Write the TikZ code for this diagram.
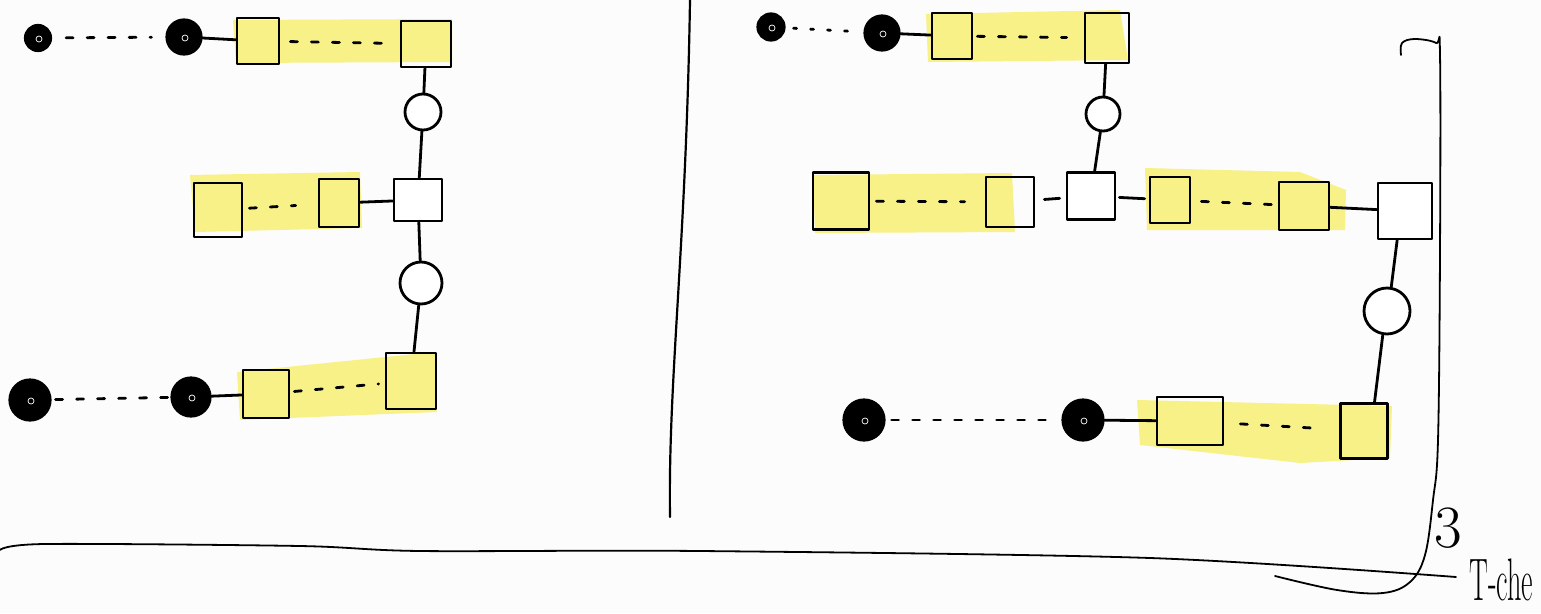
\documentclass[tikz,border=0pt]{standalone}
\usetikzlibrary{calc}
\definecolor{hl}{RGB}{248,241,135}
\definecolor{bgc}{RGB}{252,252,252}
\begin{document}
\begin{tikzpicture}[x=1pt,y=-1pt,
  pen/.style={line width=2.8pt, line cap=round, line join=round, draw=black},
  sqbox/.style={pen, rectangle, inner sep=0pt},
  wbox/.style={sqbox, fill=white},
  ring/.style={pen, circle, inner sep=0pt, fill=white},
  blob/.style={circle, fill=black, draw=black, line width=1.2pt, inner sep=0pt,
    path picture={\draw[white, line width=0.7pt] ([shift={(1,1)}]path picture bounding box.center) circle (3);}},
  dashline/.style={line width=2.8pt, line cap=round, dash pattern=on 7pt off 14pt},
  thinpen/.style={line width=1.8pt, line cap=round, line join=round}
]
\fill[bgc] (0,0) rectangle (1541,613);
\useasboundingbox (0,0) rectangle (1541,613);

% ---------- highlight bands ----------
\fill[hl] (233,20) -- (452,19) -- (452,62) -- (236,63) -- cycle;
\fill[hl] (190,175) -- (360,172) -- (362,228) -- (195,232) -- cycle;
\fill[hl] (237,372) -- (435,352) -- (437,412) -- (240,420) -- cycle;
\fill[hl] (926,14) -- (1120,10) -- (1128,60) -- (928,62) -- cycle;
\fill[hl] (813,175) -- (1012,173) -- (1015,232) -- (815,233) -- cycle;
\fill[hl] (1145,168) -- (1300,172) -- (1346,190) -- (1345,230) -- (1147,230) -- cycle;
\fill[hl] (1137,400) -- (1392,406) -- (1390,458) -- (1300,463) -- (1140,445) -- cycle;

% ---------- left panel ----------
\node[blob, minimum size=27] (a1) at (38,38) {};
\node[blob, minimum size=36] (a2) at (184,37) {};
\node[sqbox, minimum width=42, minimum height=46] (b1) at (258,41) {};
\node[sqbox, minimum width=50, minimum height=46] (b2) at (426,44) {};
\node[ring, minimum size=36] (c1) at (423,112) {};
\node[wbox, minimum width=48, minimum height=42] (w1) at (418,200) {};
\node[sqbox, minimum width=48, minimum height=54] (b3) at (218,210) {};
\node[sqbox, minimum width=40, minimum height=48] (b4) at (339,203) {};
\node[ring, minimum size=42] (c2) at (421,283) {};
\node[sqbox, minimum width=46, minimum height=48] (b5) at (266,394) {};
\node[sqbox, minimum width=50, minimum height=56] (b6) at (411,381) {};
\node[blob, minimum size=42] (a3) at (30,400) {};
\node[blob, minimum size=40] (a4) at (191,397) {};

\draw[dashline, shorten <=14pt, shorten >=14pt] (a1) -- (a2);
\draw[pen] (a2) -- (b1);
\draw[dashline, shorten <=10pt, shorten >=8pt] (b1) -- (b2);
\draw[pen] (b2) -- (c1);
\draw[pen] (c1) -- (w1);
\draw[dashline, shorten <=6pt, shorten >=22pt] (b3) -- (b4);
\draw[pen] (b4) -- (w1);
\draw[pen] (w1) -- (c2);
\draw[pen] (c2) -- (b6);
\draw[dashline, shorten <=4pt, shorten >=2pt] (a3) -- (a4);
\draw[pen] (a4) -- (b5);
\draw[dashline, shorten <=4pt, shorten >=6pt] (b5) -- (b6);

% ---------- divider ----------
\draw[line width=2.2pt, line cap=round] (690,0) .. controls (686,250) and (668,380) .. (670,517);

% ---------- right panel ----------
\node[blob, minimum size=28] (d1) at (771,27) {};
\node[blob, minimum size=36] (d2) at (882,33) {};
\node[sqbox, minimum width=40, minimum height=46] (e1) at (952,36) {};
\node[sqbox, minimum width=44, minimum height=50] (e2) at (1107,38) {};
\node[ring, minimum size=34] (f1) at (1103,114) {};
\node[wbox, minimum width=48, minimum height=47] (w2) at (1091,196) {};
\node[sqbox, minimum width=56, minimum height=57] (e3) at (841,201) {};
\node[sqbox, minimum width=48, minimum height=50] (e4) at (1010,202) {};
\node[sqbox, minimum width=40, minimum height=46] (e5) at (1170,200) {};
\node[sqbox, minimum width=50, minimum height=48] (e6) at (1304,206) {};
\node[wbox, minimum width=54, minimum height=56] (w3) at (1405,211) {};
\node[ring, minimum size=46] (f2) at (1387,311) {};
\node[sqbox, minimum width=47, minimum height=55] (e8) at (1364,431) {};
\node[sqbox, minimum width=66, minimum height=48] (e7) at (1190,421) {};
\node[blob, minimum size=42] (d3) at (864,420) {};
\node[blob, minimum size=42] (d4) at (1083,420) {};

\draw[dashline, dash pattern=on 3pt off 14pt, shorten <=8pt, shorten >=10pt] (d1) -- (d2);
\draw[pen] (d2) -- (e1);
\draw[dashline, shorten <=4pt, shorten >=17pt] (e1) -- (e2);
\draw[pen] (e2) -- (f1);
\draw[pen] (f1) -- (w2);
\draw[dashline, shorten <=6pt, shorten >=20pt] (e3) -- (e4);
\draw[pen, shorten <=9pt, shorten >=6pt] (e4) -- (w2);
\draw[pen, shorten <=3pt, shorten >=4pt] (w2) -- (e5);
\draw[dashline, shorten <=10pt, shorten >=6pt] (e5) -- (e6);
\draw[pen] (e6) -- (w3);
\draw[pen] (w3.-105) -- (f2.80);
\draw[pen] (f2.260) -- (e8.70);
\draw[dashline, shorten <=6pt, shorten >=16pt] (d3) -- (d4);
\draw[pen] (d4) -- (e7);
\draw[dashline, shorten <=16pt, shorten >=18pt] (e7) -- (e8);

% ---------- bottom line and bracket ----------
\draw[thinpen] plot[smooth, tension=0.5] coordinates {(0,550) (45,544) (300,546) (420,551) (700,551) (1150,558) (1456,577)};
\draw[thinpen] plot[smooth, tension=0.6] coordinates {(1401,55) (1402,43) (1415,39) (1436,43) (1440,55) (1440,250) (1438,440) (1433,500) (1425,555) (1410,582) (1383,593) (1337,590) (1275,576)};

\node[inner sep=0pt, font=\fontsize{60}{60}\selectfont] (three) at (1448,528) {3};
\node[anchor=base west, inner sep=0pt, font=\fontsize{60}{60}\selectfont] (tche) at (1469,600) {\scalebox{0.47}[1]{T-che}};
\end{tikzpicture}
\end{document}
